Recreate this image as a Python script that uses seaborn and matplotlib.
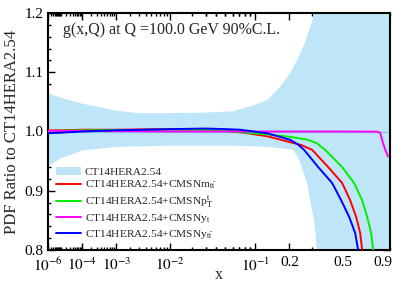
import numpy as np
import pandas as pd
import matplotlib
matplotlib.use("Agg")
import matplotlib.pyplot as plt
from matplotlib.ticker import FixedLocator, FixedFormatter, MultipleLocator
import seaborn as sns

# ---------------- data ----------------
band_x = [1e-6, 1e-5, 1e-4, 1e-3, 3e-3, 1e-2, 0.03, 0.06, 0.1, 0.129, 0.165,
          0.203, 0.215, 0.24, 0.25, 0.276, 0.308, 0.317, 0.328, 0.36, 0.5, 1.0]
band_hi = [1.065, 1.057, 1.047, 1.035, 1.031, 1.031, 1.032, 1.034, 1.045, 1.053, 1.074,
           1.099, 1.108, 1.128, 1.136, 1.16, 1.192, 1.2, 1.212, 1.26, 1.5, 2.0]
band_lo = [0.94, 0.955, 0.968, 0.974, 0.975, 0.976, 0.976, 0.976, 0.975, 0.974, 0.972,
           0.970, 0.969, 0.952, 0.94, 0.913, 0.856, 0.836, 0.80, 0.72, 0.5, 0.0]

mtt_x = [1e-6, 1e-5, 1e-4, 1e-3, 1e-2, 0.03, 0.05, 0.077, 0.129, 0.203, 0.25, 0.302,
         0.396, 0.496, 0.5615, 0.6151, 0.653, 0.6728, 0.70]
mtt_y = [1.002, 1.002, 1.003, 1.003, 1.004, 1.003, 1.001, 0.998, 0.992, 0.982, 0.977, 0.969,
         0.940, 0.913, 0.884, 0.856, 0.829, 0.800, 0.750]

ptt_x = [1e-6, 1e-4, 1e-2, 0.03, 0.06, 0.129, 0.203, 0.28, 0.329, 0.377, 0.4958,
         0.5968, 0.6728, 0.7242, 0.7674, 0.7898, 0.81]
ptt_y = [1.001, 1.002, 1.003, 1.003, 1.000, 0.995, 0.991, 0.986, 0.980, 0.969, 0.940,
         0.913, 0.884, 0.856, 0.829, 0.800, 0.750]

yt_x = [1e-6, 1e-4, 1e-2, 0.1, 0.5, 0.836, 0.872, 0.909, 0.94, 0.961, 0.97]
yt_y = [1.001, 1.001, 1.000, 1.000, 1.000, 0.9997, 0.998, 0.980, 0.968, 0.962, 0.958]

ytt_x = [1e-6, 1e-5, 1e-4, 1e-3, 1e-2, 0.03, 0.05, 0.0715, 0.129, 0.203, 0.235, 0.262,
         0.3349, 0.4227, 0.4882, 0.5528, 0.6057, 0.6337, 0.66]
ytt_y = [0.997, 0.998, 1.000, 1.002, 1.004, 1.005, 1.004, 1.003, 0.997, 0.986, 0.978, 0.969,
         0.940, 0.913, 0.884, 0.856, 0.829, 0.800, 0.750]

labels = ["CT14HERA2.54",
          r"CT14HERA2.54+CMSNm$_{\mathrm{t\bar{t}}}$",
          r"CT14HERA2.54+CMSNp$_{\mathrm{T}}^{\mathrm{t}}$",
          r"CT14HERA2.54+CMSNy$_{\mathrm{t}}$",
          r"CT14HERA2.54+CMSNy$_{\mathrm{t\bar{t}}}$"]
colors = ["#bfe6f8", "#ff0000", "#00ee00", "#ff00ff", "#0000ff"]

xticks_major = [1e-6, 1e-4, 1e-3, 1e-2, 1e-1, 0.2, 0.5, 0.9]
xtick_labels = [r"$10^{-6}$", r"$10^{-4}$", r"$10^{-3}$", r"$10^{-2}$", r"$10^{-1}$",
                "0.2", "0.5", "0.9"]
title_text = "g(x,Q) at Q =100.0 GeV 90%C.L."

# ---------------- style ----------------
sns.set_theme(style="ticks")
plt.rcParams["font.family"] = ["Liberation Serif", "DejaVu Serif"]
plt.rcParams["mathtext.fontset"] = "stix"
plt.rcParams["xtick.direction"] = "in"
plt.rcParams["ytick.direction"] = "in"

fig = plt.figure(figsize=(4.07, 2.85), dpi=100)
ax = fig.add_axes([47.5 / 407, 1 - 250 / 285, (390 - 47.5) / 407, (250 - 13) / 285])

ax.set_xscale("function", functions=(lambda v: np.power(np.clip(v, 0, None), 0.2),
                                     lambda v: np.power(np.clip(v, 0, None), 5.0)))
ax.set_xlim(1e-6, 1.0)
ax.set_ylim(0.8, 1.2)

ax.fill_between(band_x, band_lo, band_hi, color=colors[0], linewidth=0, label=labels[0], zorder=1)
ax.axhline(1.0, color="#8cc4e8", lw=1.0, zorder=2)

series = [(mtt_x, mtt_y), (ptt_x, ptt_y), (yt_x, yt_y), (ytt_x, ytt_y)]
frames = []
for i, (xs, ys) in enumerate(series):
    frames.append(pd.DataFrame({"x": xs, "y": ys, "set": labels[i + 1]}))
df = pd.concat(frames, ignore_index=True)
sns.lineplot(data=df, x="x", y="y", hue="set", palette=colors[1:], sort=False,
             estimator=None, lw=1.4, ax=ax, zorder=3)

# ticks
ax.xaxis.set_major_locator(FixedLocator(xticks_major))
ax.xaxis.set_major_formatter(FixedFormatter(xtick_labels))
minor = [k * 10.0 ** n for n in range(-6, -1) for k in range(1, 10)] + \
        [0.03, 0.04, 0.05, 0.06, 0.07, 0.08, 0.09, 0.3, 0.4, 0.6, 0.7, 0.8, 1.0]
minor = [m for m in minor if m not in xticks_major]
ax.xaxis.set_minor_locator(FixedLocator(minor))
ax.yaxis.set_major_locator(MultipleLocator(0.1))
ax.yaxis.set_minor_locator(MultipleLocator(0.02))
ax.yaxis.set_major_formatter(matplotlib.ticker.FormatStrFormatter("%.1f"))
ax.tick_params(which="both", top=True, right=True, direction="in", colors="black",
               labelsize=11, width=1.0)
ax.tick_params(which="major", length=5)
ax.tick_params(axis="x", which="major", pad=4.5)
ax.tick_params(axis="y", which="major", pad=3)
ax.tick_params(which="minor", length=2.5)
for s in ax.spines.values():
    s.set_linewidth(1.5)
    s.set_color("black")

ax.set_xlabel("x", fontsize=11.5, labelpad=-5)
ax.set_ylabel("PDF Ratio to CT14HERA2.54", fontsize=12, labelpad=3)
ax.text(0.045, 0.928, title_text, transform=ax.transAxes, fontsize=11.5,
        ha="left", va="center")

handles, labs = ax.get_legend_handles_labels()
ax.legend(handles, labs, loc="lower left", bbox_to_anchor=(0.025, 0.04), frameon=False,
          fontsize=8.2, handlelength=2.2, handletextpad=0.3, labelspacing=0.2,
          borderpad=0, borderaxespad=0)

fig.savefig("out.png", dpi=100)
